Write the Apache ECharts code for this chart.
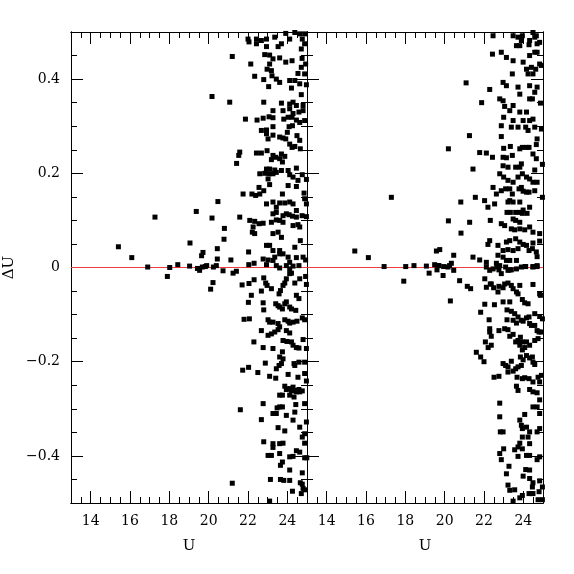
<!DOCTYPE html>
<html>
<head>
<meta charset="utf-8">
<script src="https://cdn.jsdelivr.net/npm/echarts@6/dist/echarts.min.js"></script>
<style>html,body{margin:0;padding:0;background:#fff}#c{width:574px;height:574px}</style>
</head>
<body>
<div id="c"></div>
<script>
// ---- data: [U, ΔU] pairs ----
const uRange = [13, 25];
const duRange = [-0.5, 0.5];
const xTickValues = [14, 16, 18, 20, 22, 24];
const yTickValues = [-0.4, -0.2, 0, 0.2, 0.4];
const zeroLevel = 0;
const xAxisName = 'U';
const yAxisName = 'ΔU';

const leftSparse = [[21.2,0.448],[22.14,0.432],[20.17,0.363],[21.07,0.351],[21.87,0.315],[21.58,0.245],[21.53,0.238],[21.42,0.221],[21.75,0.156],[20.47,0.140],[19.37,0.119],[17.27,0.107],[20.17,0.105],[21.58,0.107],[20.8,0.083],[20.78,0.060],[19.05,0.052],[15.41,0.044],[16.09,0.021],[19.71,0.032],[19.64,0.025],[20.44,0.040],[20.44,0.018],[21.13,0.016],[22.03,0.033],[16.9,0.001],[18.02,0.0],[18.43,0.006],[19.03,0.003],[19.43,-0.002],[19.68,0.001],[19.9,0.004],[20.24,0.001],[20.39,0.004],[17.9,-0.019],[19.54,-0.006],[19.83,0.002],[20.1,-0.046],[20.22,-0.032],[20.73,-0.007],[21.24,-0.012],[21.41,-0.008],[21.7,-0.037],[22.04,0.006],[22.31,0.009],[22.05,-0.034],[22.31,-0.026],[22.02,-0.074],[22.17,-0.059],[21.8,-0.110],[22.07,-0.109],[22.3,-0.158],[21.73,-0.218],[22.03,-0.212],[22.5,-0.223],[21.61,-0.302],[21.2,-0.458],[23.1,-0.496]];

const leftUpper = [[22.0,0.485],[22.05,0.479],[22.43,0.485],[22.43,0.475],[22.68,0.482],[22.94,0.485],[23.36,0.489],[23.92,0.497],[24.12,0.485],[24.38,0.499],[24.63,0.496],[24.88,0.496],[24.76,0.485],[24.88,0.475],[23.7,0.475],[23.53,0.469],[22.94,0.469],[24.71,0.464],[22.85,0.452],[23.1,0.451],[23.27,0.443],[23.61,0.445],[23.92,0.436],[24.24,0.439],[24.75,0.444],[24.93,0.432],[24.71,0.425],[23.1,0.432],[22.97,0.421],[23.19,0.418],[24.54,0.412],[24.88,0.411],[22.34,0.406],[22.8,0.399],[23.22,0.407],[23.44,0.4],[23.61,0.393],[24.12,0.397],[24.38,0.397],[24.63,0.39],[24.97,0.388],[23.05,0.384],[24.21,0.381],[24.71,0.367],[22.8,0.351],[23.7,0.349],[24.12,0.347],[24.29,0.351],[24.46,0.344],[24.8,0.344],[23.27,0.333],[23.78,0.333],[24.12,0.337],[24.29,0.327],[24.59,0.33],[24.8,0.333],[23.07,0.32],[23.27,0.318],[22.77,0.317],[22.46,0.313],[23.82,0.315],[24.04,0.319],[24.24,0.319],[24.46,0.313],[24.63,0.308],[24.88,0.312],[23.27,0.299],[22.94,0.292],[22.68,0.291],[24.09,0.299],[24.26,0.301],[24.0,0.287],[22.94,0.284],[23.27,0.281],[23.02,0.273],[23.61,0.277],[23.78,0.275],[23.92,0.273],[24.49,0.28],[24.63,0.27],[24.12,0.262],[24.24,0.255],[24.38,0.257],[24.66,0.252],[22.43,0.243],[22.68,0.243],[22.97,0.248],[23.27,0.238],[23.41,0.234],[23.7,0.241],[23.87,0.236],[23.19,0.229],[23.61,0.231],[23.75,0.224],[22.94,0.209],[23.1,0.209],[23.36,0.207],[23.7,0.206],[24.04,0.206],[24.46,0.211],[22.6,0.199],[22.85,0.2],[23.07,0.199],[23.27,0.199],[23.44,0.202],[24.12,0.197],[24.29,0.192],[24.76,0.197],[24.97,0.187],[24.54,0.185],[23.02,0.188],[23.1,0.176],[22.8,0.163],[22.6,0.156],[22.39,0.153],[22.2,0.156],[22.56,0.17],[24.04,0.174],[24.46,0.172],[23.75,0.156],[24.85,0.158],[24.88,0.146],[24.97,0.135],[22.94,0.135],[23.27,0.139],[23.44,0.128],[23.61,0.137],[23.87,0.137],[24.12,0.139],[24.29,0.135],[24.46,0.121],[24.75,0.11],[24.97,0.108],[23.27,0.114],[23.44,0.117],[23.78,0.11],[23.95,0.114],[24.09,0.112],[24.26,0.109],[24.46,0.107],[22.09,0.1],[22.34,0.098],[22.56,0.093],[22.77,0.094],[23.19,0.096],[23.44,0.101],[23.61,0.1],[23.78,0.096],[24.29,0.089],[24.54,0.091],[24.63,0.086],[22.26,0.086],[22.22,0.075],[22.34,0.072],[23.27,0.072],[23.53,0.075],[23.7,0.064],[24.66,0.057],[22.94,0.047],[23.1,0.047],[23.27,0.036],[23.61,0.036],[23.78,0.029],[24.38,0.043],[24.46,0.021],[24.8,0.022],[24.93,0.016],[22.77,0.018],[23.02,0.016],[23.27,0.015],[23.36,0.022],[23.61,0.029],[24.04,0.022],[24.12,0.011],[23.44,0.004],[22.94,0.006],[23.95,0.004],[24.29,0.003],[24.59,0.004],[23.61,-0.001],[24.12,-0.003]];

const leftLower = [[22.8,-0.022],[22.9,-0.033],[22.97,-0.038],[23.19,-0.045],[22.68,-0.05],[23.58,-0.056],[23.65,-0.049],[23.78,-0.038],[23.87,-0.033],[23.95,-0.024],[24.12,-0.013],[24.21,-0.012],[24.38,-0.033],[24.63,-0.024],[24.93,-0.019],[24.97,-0.036],[24.46,-0.059],[24.59,-0.066],[23.41,-0.077],[23.53,-0.081],[23.61,-0.084],[23.75,-0.088],[23.87,-0.077],[23.95,-0.073],[24.12,-0.084],[24.21,-0.088],[24.43,-0.091],[22.77,-0.075],[22.8,-0.090],[23.02,-0.111],[23.1,-0.116],[23.27,-0.116],[23.53,-0.119],[23.87,-0.111],[24.04,-0.114],[24.12,-0.118],[24.29,-0.116],[24.49,-0.114],[24.76,-0.107],[24.88,-0.111],[22.68,-0.134],[23.02,-0.144],[23.19,-0.141],[23.36,-0.137],[23.53,-0.132],[23.61,-0.126],[23.95,-0.134],[24.12,-0.139],[23.78,-0.155],[23.98,-0.157],[24.21,-0.158],[24.29,-0.165],[24.46,-0.170],[24.59,-0.171],[24.97,-0.172],[24.8,-0.153],[22.77,-0.170],[23.27,-0.172],[23.75,-0.179],[23.61,-0.190],[24.59,-0.201],[24.88,-0.201],[22.88,-0.203],[23.44,-0.215],[23.58,-0.208],[23.7,-0.204],[23.78,-0.194],[24.34,-0.204],[24.38,-0.208],[24.88,-0.225],[24.97,-0.241],[24.54,-0.233],[23.1,-0.231],[23.41,-0.235],[24.04,-0.227],[23.87,-0.252],[23.95,-0.259],[24.12,-0.257],[24.21,-0.262],[24.29,-0.254],[24.38,-0.261],[24.46,-0.264],[24.59,-0.259],[24.63,-0.264],[24.76,-0.262],[23.61,-0.271],[23.75,-0.271],[24.12,-0.271],[24.34,-0.275],[22.77,-0.289],[23.48,-0.298],[23.61,-0.296],[23.75,-0.296],[24.43,-0.291],[24.88,-0.289],[24.38,-0.307],[23.27,-0.310],[23.44,-0.310],[22.68,-0.323],[23.95,-0.314],[24.29,-0.324],[24.97,-0.328],[23.53,-0.340],[23.87,-0.347],[24.63,-0.339],[24.88,-0.353],[24.76,-0.360],[22.8,-0.370],[23.27,-0.374],[23.61,-0.374],[23.78,-0.373],[24.88,-0.373],[23.27,-0.382],[23.02,-0.399],[23.19,-0.399],[23.61,-0.395],[24.12,-0.402],[24.29,-0.401],[24.46,-0.389],[24.63,-0.392],[24.88,-0.404],[24.99,-0.404],[23.75,-0.413],[23.65,-0.420],[24.12,-0.430],[24.76,-0.436],[23.14,-0.450],[23.65,-0.450],[23.82,-0.452],[24.12,-0.452],[24.66,-0.457],[24.76,-0.460],[24.88,-0.472],[24.26,-0.475],[24.71,-0.480],[24.8,-0.469]];

const rightSparse = [[21.09,0.392],[22.29,0.378],[21.88,0.35],[21.26,0.28],[20.19,0.252],[21.78,0.244],[22.12,0.243],[22.43,0.234],[21.44,0.209],[17.29,0.149],[20.82,0.139],[21.56,0.149],[22.03,0.142],[22.2,0.128],[20.19,0.099],[21.27,0.096],[22.32,0.1],[20.83,0.073],[22.29,0.057],[22.2,0.049],[15.43,0.035],[16.12,0.021],[19.58,0.035],[19.75,0.038],[20.46,0.026],[20.34,0.009],[16.92,0.002],[18.02,0.002],[18.44,0.004],[19.07,0.003],[19.49,0.006],[19.66,0.004],[19.95,0.002],[20.17,0.001],[21.44,0.022],[21.78,0.016],[22.12,0.011],[22.46,0.492],[17.92,-0.029],[19.21,-0.012],[19.61,-0.005],[19.92,-0.017],[19.71,0.004],[20.25,0.004],[20.46,-0.006],[20.29,-0.071],[20.76,-0.028],[21.15,-0.04],[21.32,-0.045],[21.83,-0.095],[22.04,-0.078],[22.26,-0.111],[22.07,-0.158],[21.61,-0.18],[21.83,-0.19],[22.0,-0.2],[22.29,-0.137],[22.37,-0.165],[22.53,-0.079],[22.04,-0.024],[22.37,-0.035],[22.51,-0.233],[22.76,-0.231],[22.8,-0.288],[22.8,-0.317],[22.83,-0.349],[22.97,-0.349],[22.8,-0.395],[22.88,-0.408],[23.0,-0.385],[23.14,-0.438],[23.27,-0.422],[23.22,-0.462],[23.31,-0.473],[23.48,-0.496],[23.56,-0.472]];

const rightUpper = [[23.48,0.492],[23.73,0.489],[23.95,0.492],[23.9,0.482],[23.65,0.471],[23.82,0.471],[24.32,0.482],[24.49,0.499],[24.58,0.489],[24.66,0.492],[24.7,0.475],[24.83,0.478],[24.29,0.473],[22.43,0.453],[22.88,0.457],[23.14,0.446],[23.48,0.439],[23.99,0.436],[24.32,0.45],[24.58,0.457],[24.7,0.457],[24.83,0.432],[24.92,0.429],[24.41,0.425],[24.63,0.421],[24.16,0.421],[24.24,0.411],[24.49,0.411],[23.44,0.411],[22.97,0.393],[23.14,0.386],[23.73,0.383],[23.82,0.368],[24.32,0.386],[24.58,0.372],[24.7,0.383],[22.8,0.358],[22.97,0.354],[23.05,0.342],[23.48,0.344],[23.31,0.333],[23.82,0.33],[24.16,0.33],[24.32,0.358],[24.46,0.358],[24.87,0.349],[24.49,0.315],[24.32,0.312],[23.99,0.312],[23.0,0.319],[23.48,0.312],[23.39,0.298],[23.73,0.298],[24.12,0.298],[24.24,0.291],[22.88,0.301],[24.58,0.298],[24.92,0.294],[22.88,0.278],[24.7,0.273],[24.66,0.261],[23.0,0.253],[23.34,0.257],[23.82,0.252],[23.95,0.255],[24.16,0.255],[24.29,0.255],[24.49,0.241],[24.66,0.231],[24.97,0.219],[22.97,0.234],[23.14,0.233],[23.44,0.238],[22.97,0.216],[23.22,0.213],[23.61,0.213],[23.82,0.213],[23.9,0.22],[24.58,0.207],[22.8,0.199],[23.0,0.192],[23.22,0.185],[23.48,0.181],[23.73,0.192],[23.95,0.199],[24.16,0.192],[24.32,0.188],[24.49,0.181],[24.7,0.181],[22.46,0.17],[22.63,0.156],[22.88,0.163],[23.1,0.167],[23.31,0.167],[23.44,0.156],[23.78,0.167],[23.9,0.17],[23.99,0.162],[24.16,0.16],[24.29,0.16],[24.58,0.163],[24.97,0.149],[23.22,0.139],[23.31,0.142],[23.48,0.139],[23.82,0.139],[23.99,0.122],[24.32,0.128],[22.54,0.135],[23.17,0.117],[23.34,0.117],[23.61,0.117],[23.82,0.117],[23.95,0.115],[24.19,0.115],[23.48,0.103],[23.61,0.1],[23.82,0.096],[22.88,0.093],[23.05,0.089],[23.39,0.082],[23.56,0.08],[23.82,0.082],[24.07,0.08],[24.32,0.086],[24.49,0.075],[24.83,0.072],[22.71,0.047],[23.14,0.054],[23.31,0.057],[23.61,0.061],[23.82,0.054],[23.99,0.049],[24.16,0.047],[24.49,0.052],[24.83,0.056],[22.97,0.036],[23.22,0.038],[23.48,0.036],[23.73,0.04],[24.29,0.036],[24.46,0.04],[24.66,0.033],[24.7,0.023],[22.71,0.026],[22.97,0.022],[23.14,0.015],[23.31,0.015],[23.65,0.015],[22.63,0.009],[22.8,0.004],[24.09,0.002],[24.49,0.002],[24.7,0.004],[23.31,-0.005]];

const rightLower = [[22.12,0.001],[22.29,-0.006],[22.46,-0.003],[22.66,0.001],[22.76,-0.005],[22.88,-0.013],[23.1,0.001],[23.22,-0.006],[23.39,-0.005],[23.65,-0.003],[23.9,0.001],[24.12,0.002],[24.49,0.001],[24.7,0.002],[22.12,-0.042],[22.32,-0.035],[22.49,-0.043],[22.71,-0.052],[22.76,-0.04],[22.97,-0.043],[23.05,-0.035],[23.22,-0.033],[23.39,-0.038],[23.48,-0.045],[23.65,-0.052],[23.73,-0.056],[23.82,-0.038],[23.95,-0.068],[24.07,-0.075],[24.24,-0.077],[24.49,-0.036],[24.83,-0.056],[24.87,-0.059],[22.97,-0.073],[23.17,-0.09],[23.31,-0.073],[23.39,-0.093],[23.56,-0.098],[23.73,-0.105],[23.99,-0.114],[24.16,-0.107],[24.29,-0.105],[24.58,-0.098],[24.83,-0.104],[24.97,-0.109],[23.17,-0.111],[23.48,-0.112],[23.65,-0.118],[23.9,-0.112],[24.32,-0.119],[24.41,-0.123],[24.58,-0.123],[24.7,-0.134],[24.8,-0.137],[24.92,-0.137],[22.76,-0.134],[23.05,-0.13],[23.22,-0.132],[23.31,-0.146],[23.48,-0.142],[23.61,-0.158],[23.73,-0.155],[23.85,-0.148],[23.95,-0.158],[24.16,-0.158],[24.32,-0.165],[24.58,-0.155],[24.75,-0.151],[22.29,-0.13],[22.37,-0.146],[22.21,-0.17],[23.82,-0.165],[23.95,-0.175],[24.07,-0.17],[24.16,-0.187],[24.32,-0.192],[24.46,-0.19],[24.49,-0.201],[24.58,-0.206],[23.85,-0.19],[23.99,-0.196],[22.97,-0.204],[23.1,-0.208],[23.22,-0.211],[23.39,-0.199],[23.61,-0.215],[23.73,-0.211],[23.9,-0.208],[23.22,-0.222],[23.48,-0.22],[23.68,-0.233],[23.95,-0.236],[24.07,-0.234],[24.29,-0.236],[24.49,-0.243],[24.75,-0.233],[24.83,-0.243],[24.92,-0.229],[23.65,-0.252],[23.73,-0.261],[24.32,-0.259],[24.49,-0.264],[24.7,-0.266],[24.83,-0.281],[24.7,-0.296],[24.83,-0.31],[24.49,-0.296],[24.07,-0.312],[23.82,-0.324],[23.9,-0.335],[23.95,-0.342],[24.16,-0.339],[24.32,-0.349],[24.7,-0.349],[24.83,-0.342],[24.24,-0.36],[24.32,-0.374],[23.95,-0.36],[23.82,-0.373],[23.73,-0.381],[23.56,-0.387],[23.73,-0.401],[23.95,-0.385],[24.16,-0.399],[24.32,-0.399],[24.7,-0.408],[24.83,-0.402],[24.12,-0.429],[24.32,-0.43],[23.99,-0.443],[24.32,-0.448],[24.49,-0.457],[24.83,-0.453],[24.46,-0.466],[24.97,-0.466],[24.8,-0.476],[24.41,-0.48],[24.75,-0.493],[24.97,-0.493],[24.49,-0.48],[24.29,-0.48],[23.95,-0.484],[23.82,-0.489]];

// ---- chart ----
const FONT = 'DejaVu Serif';
const BLACK = '#000';
const RED = '#ee3b3b';
const fmtY = v => (v < 0 ? '\u2212' + Math.abs(v) : String(v));
const zeroLinePts = uRange.map(u => [u, zeroLevel]);

const grids = [
  { left: 71, top: 32, width: 236, height: 471 },
  { left: 307, top: 32, width: 236, height: 471 }
];

// every axis keeps its line and labels switched on (ticks need both); extra axes print empty labels
function mkLine() { return { show: true, onZero: false, lineStyle: { color: BLACK, width: 1 } }; }
function mkTick(len, vals) {
  const t = { show: true, inside: true, length: len, lineStyle: { color: BLACK, width: 1 } };
  if (vals) t.customValues = vals;
  return t;
}
function blankLabel(vals) {
  const l = { show: true, formatter: function () { return ''; } };
  if (vals) l.customValues = vals;
  return l;
}

function xAxes(g) {
  const mk = (pos, interval, len, vals, label) => ({
    type: 'value', gridIndex: g, min: uRange[0], max: uRange[1], interval: interval, position: pos,
    splitLine: { show: false }, axisLine: mkLine(), axisTick: mkTick(len, vals), axisLabel: label
  });
  const main = mk('bottom', 1, 12, xTickValues,
    { show: true, customValues: xTickValues, fontFamily: FONT, fontSize: 14, color: BLACK, margin: 11 });
  main.name = xAxisName;
  main.nameLocation = 'middle';
  main.nameGap = 36;
  main.nameTextStyle = { fontFamily: FONT, fontSize: 15, color: BLACK };
  return [
    main,
    mk('bottom', 0.5, 6, null, blankLabel()),
    mk('top', 1, 12, xTickValues, blankLabel(xTickValues)),
    mk('top', 0.5, 6, null, blankLabel())
  ];
}

function yAxes(g) {
  const mk = (pos, interval, len, vals, label) => ({
    type: 'value', gridIndex: g, min: duRange[0], max: duRange[1], interval: interval, position: pos,
    splitLine: { show: false }, axisLine: mkLine(), axisTick: mkTick(len, vals), axisLabel: label
  });
  const main = mk('left', 0.1, 12, yTickValues, g === 0
    ? { show: true, customValues: yTickValues, formatter: fmtY, fontFamily: FONT, fontSize: 14, color: BLACK, margin: 11 }
    : blankLabel(yTickValues));
  if (g === 0) {
    main.name = yAxisName;
    main.nameLocation = 'middle';
    main.nameGap = 54;
    main.nameRotate = 90;
    main.nameTextStyle = { fontFamily: FONT, fontSize: 15, color: BLACK };
  }
  return [
    main,
    mk('left', 0.05, 6, null, blankLabel()),
    mk('right', 0.1, 12, yTickValues, blankLabel(yTickValues)),
    mk('right', 0.05, 6, null, blankLabel())
  ];
}

function scatter(g, data) {
  return {
    type: 'scatter', xAxisIndex: g * 4, yAxisIndex: g * 4, data: data,
    symbol: 'rect', symbolSize: 5, itemStyle: { color: BLACK, opacity: 1 }, z: 11
  };
}

// invisible companions so each decorative axis pair is bound to a series
function ghost(g, k, data) {
  return {
    type: 'scatter', xAxisIndex: g * 4 + k, yAxisIndex: g * 4 + k, data: data,
    symbolSize: 0, itemStyle: { opacity: 0 }, z: 0
  };
}

function zeroLine(g) {
  return {
    type: 'line', xAxisIndex: g * 4, yAxisIndex: g * 4, data: zeroLinePts,
    symbol: 'none', z: 10,
    lineStyle: { color: RED, width: 1, type: 'solid' },
    itemStyle: { color: RED }
  };
}

const chart = echarts.init(document.getElementById('c'));
chart.setOption({
  animation: false,
  backgroundColor: '#fff',
  grid: grids,
  xAxis: xAxes(0).concat(xAxes(1)),
  yAxis: yAxes(0).concat(yAxes(1)),
  series: [
    zeroLine(0),
    scatter(0, leftSparse),
    scatter(0, leftUpper),
    scatter(0, leftLower),
    ghost(0, 1, leftSparse), ghost(0, 2, leftSparse), ghost(0, 3, leftSparse),
    zeroLine(1),
    scatter(1, rightSparse),
    scatter(1, rightUpper),
    scatter(1, rightLower),
    ghost(1, 1, rightSparse), ghost(1, 2, rightSparse), ghost(1, 3, rightSparse)
  ]
});
</script>
</body>
</html>
